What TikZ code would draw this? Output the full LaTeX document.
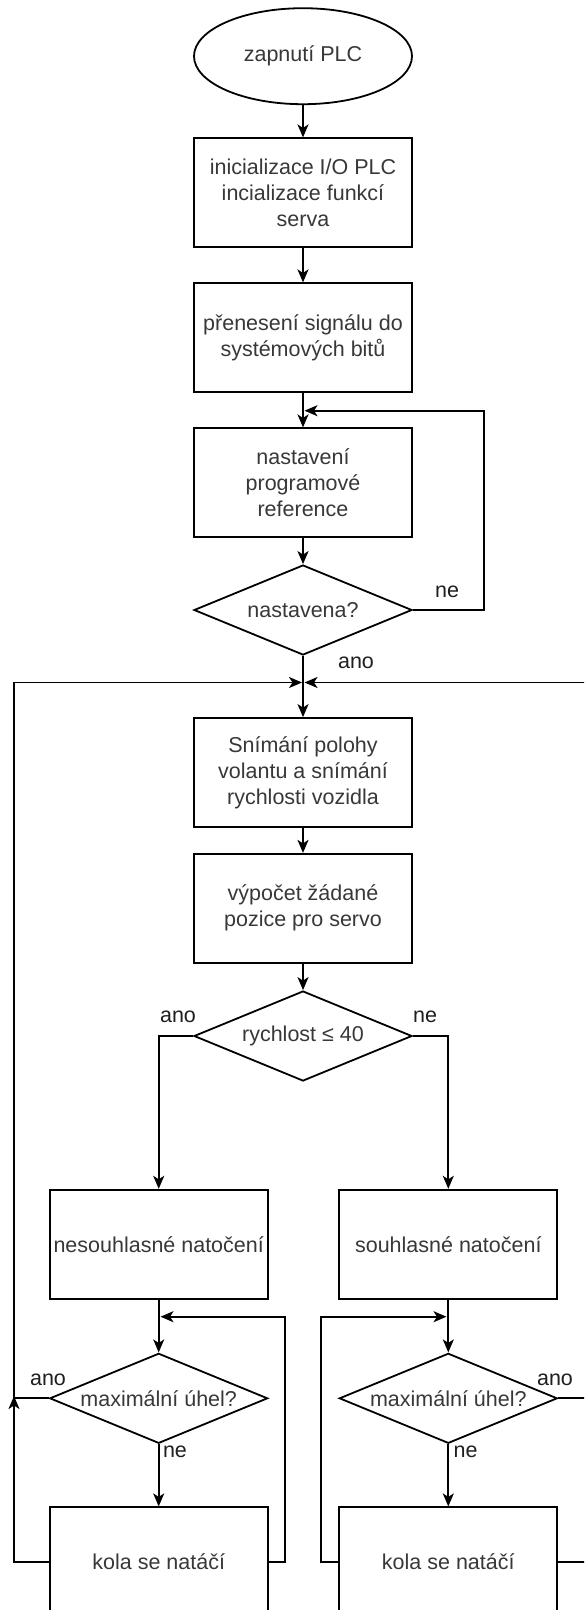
\documentclass[tikz,border=0pt]{standalone}
\usepackage{fontspec}
\setmainfont{Liberation Sans}
\usetikzlibrary{shapes.geometric,arrows.meta}
\tikzset{
  basefont/.style={font=\fontsize{21.5}{26}\selectfont},
  box/.style={draw=black, line width=1.8pt, rectangle, minimum width=218pt, minimum height=109pt,
    inner sep=0pt, align=center, basefont, text=black!78},
  startnode/.style={draw=black, line width=1.8pt, ellipse, minimum width=218pt, minimum height=96pt,
    inner sep=0pt, align=center, basefont, text=black!78},
  dia/.style={draw=black, line width=1.8pt, diamond, minimum width=218pt, minimum height=90pt, inner sep=0pt},
  diatext/.style={inner sep=0pt, align=center, basefont, text=black!78},
  lbl/.style={inner sep=0pt, basefont, text=black!88},
  conn/.style={draw=black, line width=1.8pt},
  arr/.style={conn, -{Stealth[length=13pt, width=11pt, inset=3.5pt]}}
}
\begin{document}
\begin{tikzpicture}[x=1pt, y=-1pt]
\clip (0,0) rectangle (584,1610);
\fill[white] (0,0) rectangle (584,1610);

% main column
\node[startnode] (start) at (303,56.2) {zapnutí PLC};
\node[box] (b1) at (303,192.8) {inicializace I/O PLC\\incializace funkcí\\serva};
\node[box] (b2) at (303,337.8) {přenesení signálu do\\systémových bitů};
\node[box] (b3) at (303,482.8) {nastavení\\programové\\reference};
\node[dia] (d1) at (303,610) {};
\node[diatext] (d1t) at (d1.center) {nastavena?};
\node[box] (b4) at (303,772.5) {Snímání polohy\\volantu a snímání\\rychlosti vozidla};
\node[box] (b5) at (303,908.3) {výpočet žádané\\pozice pro servo};
\node[dia] (d2) at (303,1036) {};
\node[diatext] (d2t) at (d2.center) {rychlost ≤ 40};

% left branch
\node[box] (L1) at (158.7,1244.2) {nesouhlasné natočení};
\node[dia] (d3) at (158.7,1398.3) {};
\node[diatext] (d3t) at (d3.center) {maximální úhel?};
\node[box] (k1) at (158.7,1561.8) {kola se natáčí};

% right branch
\node[box] (R1) at (448.3,1244.2) {souhlasné natočení};
\node[dia] (d4) at (448.3,1398.3) {};
\node[diatext] (d4t) at (d4.center) {maximální úhel?};
\node[box] (k2) at (448.3,1561.8) {kola se natáčí};

% helper coordinates
\coordinate (lp1) at (484.2,410.7);
\coordinate (lp1e) at (304.5,410.7);
\coordinate (feedL) at (14,682.5);
\coordinate (feedR) at (590,682.5);
\coordinate (flend) at (302,682.5);
\coordinate (frend) at (304.5,682.5);
\coordinate (lk1) at (285,1316.7);
\coordinate (lk1e) at (160.5,1316.7);
\coordinate (lk2) at (321.3,1316.7);
\coordinate (lk2e) at (446.5,1316.7);
\coordinate (jl) at (14,1396);
\coordinate (jr) at (590,1398.3);

% connectors
\draw[arr] (start) -- (b1);
\draw[arr] (b1) -- (b2);
\draw[arr] (b2) -- (b3);
\draw[arr] (b3) -- (d1);
\draw[arr] (d1) -- (b4);
\draw[arr] (d1.east) -| (lp1) -- (lp1e);
\draw[arr] (b4) -- (b5);
\draw[arr] (b5) -- (d2);
\draw[arr] (d2.west) -| (L1.north);
\draw[arr] (d2.east) -| (R1.north);
\draw[arr] (L1) -- (d3);
\draw[arr] (d3) -- (k1);
\draw[arr] (R1) -- (d4);
\draw[arr] (d4) -- (k2);
\draw[arr] (k1.east) -| (lk1) -- (lk1e);
\draw[arr] (k2.west) -| (lk2) -- (lk2e);
\draw[arr] (d3.west) -| (feedL) -- (flend);
\draw[arr] (k1.west) -| (jl);
\draw[arr] (d4.east) -| (feedR) -- (frend);
\draw[conn] (k2.east) -| (jr);

% labels
\node[lbl] (l1) at (447,591.7) {ne};
\node[lbl] (l2) at (356,663) {ano};
\node[lbl] (l3) at (178,1017) {ano};
\node[lbl] (l4) at (425,1017) {ne};
\node[lbl] (l5) at (48,1380) {ano};
\node[lbl] (l6) at (175,1452) {ne};
\node[lbl] (l7) at (555,1380) {ano};
\node[lbl] (l8) at (465.5,1452) {ne};
\end{tikzpicture}
\end{document}
